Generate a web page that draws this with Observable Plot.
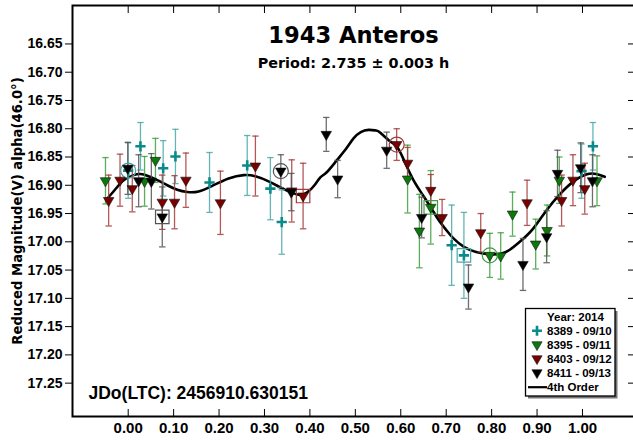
<!DOCTYPE html>
<html><head><meta charset="utf-8">
<script src="https://cdn.jsdelivr.net/npm/d3@7"></script>
<script src="https://cdn.jsdelivr.net/npm/@observablehq/plot@0.6"></script>
<style>
html,body{margin:0;padding:0;background:#fff;}
#chart{width:633px;height:441px;overflow:hidden;}
</style></head><body><div id="chart"></div>
<script>
// ---- texts ----
const titleText = "1943 Anteros";
const subtitleText = "Period: 2.735 \u00b1 0.003 h";
const yLabelText = "Reduced Magnitude(V) alpha(46.0\u00b0)";
const jdText = "JDo(LTC): 2456910.630151";
const legendTitle = "Year: 2014";
const fitLabel = "4th Order";

// ---- ticks ----
const xTicks = [0.00, 0.10, 0.20, 0.30, 0.40, 0.50, 0.60, 0.70, 0.80, 0.90, 1.00];
const yTicks = [16.65, 16.70, 16.75, 16.80, 16.85, 16.90, 16.95, 17.00, 17.05, 17.10, 17.15, 17.20, 17.25];

// ---- series ----
const seriesNames = ["8389 - 09/10", "8395 - 09/11", "8403 - 09/12", "8411 - 09/13"];

const s8389Phase = [0.000, 0.027, 0.077, 0.104, 0.179, 0.262, 0.313, 0.338, 0.712, 0.739, 0.998, 1.023];
const s8389Mag   = [16.874, 16.831, 16.870, 16.849, 16.895, 16.865, 16.906, 16.965, 17.006, 17.024, 16.875, 16.831];
const s8389Err   = [0.049, 0.042, 0.049, 0.048, 0.053, 0.053, 0.055, 0.057, 0.071, 0.076, 0.048, 0.042];

const s8395Phase = [-0.050, 0.036, 0.060, 0.615, 0.641, 0.666, 0.796, 0.820, 0.846, 0.897, 0.922, 0.949, 1.032];
const s8395Mag   = [16.892, 16.893, 16.856, 16.889, 16.981, 16.939, 17.024, 17.025, 16.951, 17.004, 16.980, 16.891, 16.892];
const s8395Err   = [0.041, 0.044, 0.039, 0.060, 0.065, 0.065, 0.039, 0.041, 0.039, 0.044, 0.045, 0.041, 0.044];

const s8403Phase = [-0.043, -0.018, 0.009, 0.075, 0.102, 0.127, 0.203, 0.280, 0.360, 0.385, 0.591, 0.615, 0.666, 0.691, 0.776, 0.878, 0.954, 0.979, 1.005];
const s8403Mag   = [16.927, 16.891, 16.906, 16.930, 16.930, 16.891, 16.931, 16.866, 16.910, 16.919, 16.828, 16.861, 16.909, 16.957, 16.984, 16.931, 16.927, 16.891, 16.906];
const s8403Err   = [0.045, 0.046, 0.041, 0.048, 0.047, 0.048, 0.056, 0.053, 0.055, 0.058, 0.028, 0.028, 0.028, 0.032, 0.034, 0.040, 0.045, 0.045, 0.045];

const s8411Phase = [-0.001, 0.023, 0.051, 0.075, 0.336, 0.359, 0.436, 0.461, 0.569, 0.646, 0.749, 0.869, 0.921, 0.945, 0.996, 1.022];
const s8411Mag   = [16.870, 16.892, 16.893, 16.956, 16.875, 16.912, 16.810, 16.889, 16.838, 16.957, 17.080, 17.040, 16.991, 16.879, 16.869, 16.892];
const s8411Err   = [0.046, 0.046, 0.049, 0.053, 0.029, 0.033, 0.030, 0.033, 0.032, 0.036, 0.039, 0.046, 0.046, 0.041, 0.044, 0.046];

// index of the circled / boxed point in each series
const circledIdx = [0, 6, 10, 4];
const boxedIdx   = [9, 5, 9, 3];

// ---- 4th order fit curve ----
const fitPhase = [-0.046, -0.024, -0.010, 0.012, 0.027, 0.042, 0.064, 0.086, 0.108, 0.130, 0.155, 0.185, 0.221, 0.254, 0.280, 0.309, 0.338, 0.360, 0.379, 0.395, 0.410, 0.423, 0.437, 0.459, 0.480, 0.496, 0.512, 0.529, 0.545, 0.555, 0.576, 0.591, 0.605, 0.624, 0.645, 0.666, 0.683, 0.701, 0.716, 0.739, 0.766, 0.796, 0.820, 0.840, 0.862, 0.891, 0.921, 0.950, 0.979, 1.008, 1.030, 1.049];
const fitMag   = [16.9235, 16.903, 16.891, 16.882, 16.880, 16.883, 16.891, 16.900, 16.908, 16.912, 16.911, 16.901, 16.888, 16.882, 16.884, 16.893, 16.905, 16.913, 16.917, 16.912, 16.900, 16.886, 16.877, 16.856, 16.835, 16.817, 16.806, 16.802, 16.803, 16.807, 16.822, 16.831, 16.852, 16.885, 16.913, 16.939, 16.961, 16.980, 16.994, 17.009, 17.018, 17.022, 17.021, 17.014, 17.000, 16.977, 16.944, 16.916, 16.894, 16.881, 16.880, 16.885];

// ---- styles ----
const colors = ["#0a8a8a", "#0b7a0b", "#7a0000", "#000000"];
const barColors = ["#4aa8a8", "#3f9f3f", "#a63c3c", "#555555"];

function build(ph, mg, er) { return ph.map((p, i) => ({phase: p, mag: mg[i], err: er[i]})); }
const seriesData = [
  build(s8389Phase, s8389Mag, s8389Err),
  build(s8395Phase, s8395Mag, s8395Err),
  build(s8403Phase, s8403Mag, s8403Err),
  build(s8411Phase, s8411Mag, s8411Err)
];
const fitData = fitPhase.map((p, i) => ({phase: p, mag: fitMag[i]}));

const capSymbol = { draw(ctx) { ctx.moveTo(-3.2, 0); ctx.lineTo(3.2, 0); } };
const FONT = "'Liberation Sans', Arial, Helvetica, sans-serif";
const WIDE = "'DejaVu Sans', Verdana, sans-serif";

const marks = [];
marks.push(Plot.line(fitData, {x: "phase", y: "mag", curve: "natural", stroke: "black", strokeWidth: 2.6}));

seriesData.forEach((data, k) => {
  const bc = barColors[k];
  marks.push(Plot.ruleX(data, {x: "phase", y1: d => d.mag - d.err, y2: d => d.mag + d.err, stroke: bc, strokeWidth: 1.3, strokeOpacity: 0.85}));
  marks.push(Plot.dot(data, {x: "phase", y: d => d.mag - d.err, symbol: capSymbol, fill: "none", stroke: bc, strokeWidth: 1.3, strokeOpacity: 0.85}));
  marks.push(Plot.dot(data, {x: "phase", y: d => d.mag + d.err, symbol: capSymbol, fill: "none", stroke: bc, strokeWidth: 1.3, strokeOpacity: 0.85}));
});
seriesData.forEach((data, k) => {
  const c = colors[k];
  if (k === 0) {
    marks.push(Plot.dot(data, {x: "phase", y: "mag", symbol: "plus", r: 3.4, stroke: c, strokeWidth: 2.6}));
  } else {
    marks.push(Plot.dot(data, {x: "phase", y: "mag", symbol: "triangle", rotate: 180, r: 3.9, fill: c, stroke: "#111", strokeWidth: 0.6}));
  }
  marks.push(Plot.dot([data[circledIdx[k]]], {x: "phase", y: "mag", symbol: "circle", r: 7.5, fill: "none", stroke: barColors[k], strokeWidth: 1.2}));
  marks.push(Plot.dot([data[boxedIdx[k]]], {x: "phase", y: "mag", symbol: "square", r: 7.6, fill: "none", stroke: barColors[k], strokeWidth: 1.2}));
});

// axes
marks.push(Plot.axisY(yTicks, {anchor: "left", tickSize: 7, tickPadding: 3, tickFormat: d => d.toFixed(2), fontSize: 14, fontWeight: "bold", label: null}));
marks.push(Plot.axisY(yTicks, {anchor: "right", tickSize: -7, tickFormat: () => "", label: null}));
marks.push(Plot.axisX(xTicks, {anchor: "bottom", tickSize: 0, tickPadding: 6, tickFormat: d => d.toFixed(2), fontSize: 15, fontWeight: "bold", label: null}));
marks.push(Plot.axisX(xTicks, {anchor: "bottom", tickSize: -7, tickFormat: () => "", label: null}));
marks.push(Plot.axisX(xTicks, {anchor: "top", tickSize: -7, tickFormat: () => "", label: null}));
marks.push(Plot.frame({stroke: "black", strokeWidth: 2}));

// texts
marks.push(Plot.text([titleText], {frameAnchor: "top", dy: 30, text: d => d, fontSize: 22.6, fontWeight: "bold", fontFamily: WIDE, lineAnchor: "middle", fill: "black"}));
marks.push(Plot.text([subtitleText], {frameAnchor: "top", dy: 58, text: d => d, fontSize: 14.4, fontWeight: "bold", fontFamily: WIDE, lineAnchor: "middle", fill: "black"}));
marks.push(Plot.text([jdText], {frameAnchor: "bottom-left", dx: 16, dy: -23, text: d => d, textAnchor: "start", fontSize: 17.5, fontWeight: "bold", lineAnchor: "middle", fill: "black"}));
marks.push(Plot.text([yLabelText], {frameAnchor: "left", dx: -54.5, text: d => d, rotate: -90, fontSize: 13.2, fontWeight: "bold", fontFamily: WIDE, lineAnchor: "middle", textAnchor: "middle", fill: "black"}));

const svg = Plot.plot({
  width: 633, height: 441,
  marginLeft: 72, marginRight: -1, marginTop: 5, marginBottom: 25,
  x: {domain: [-0.1226, 1.1145]},
  y: {domain: [17.309, 16.582]},
  style: {fontFamily: FONT, background: "white", color: "black", overflow: "hidden"},
  marks
});
document.getElementById("chart").appendChild(svg);

// ---- legend ----
const sel = d3.select(svg);
const lg = sel.append("g").attr("font-family", FONT).attr("font-weight", "bold").attr("font-size", 11.5).attr("text-anchor", "start");
const bx = 525.5, by = 308.5, bw = 89.5, bh = 87.5;
lg.append("rect").attr("x", bx + 2.5).attr("y", by + 2.5).attr("width", bw).attr("height", bh).attr("fill", "#777");
lg.append("rect").attr("x", bx).attr("y", by).attr("width", bw).attr("height", bh).attr("fill", "white").attr("stroke", "black").attr("stroke-width", 1.3);
const rowY = [316.7, 330.7, 344.7, 358.7, 372.7, 387.2];
const symX = 537, txtX = 547;
lg.append("text").attr("x", txtX).attr("y", rowY[0]).attr("dy", "0.35em").attr("text-anchor", "start").text(legendTitle);
seriesNames.forEach((name, k) => {
  const y = rowY[k + 1];
  if (k === 0) {
    lg.append("path").attr("d", d3.symbol(d3.symbolPlus, 34)()).attr("transform", `translate(${symX},${y})`).attr("fill", "none").attr("stroke", colors[0]).attr("stroke-width", 2.6);
  } else {
    lg.append("path").attr("d", d3.symbol(d3.symbolTriangle, 45)()).attr("transform", `translate(${symX},${y}) rotate(180)`).attr("fill", colors[k]).attr("stroke", "#111").attr("stroke-width", 0.6);
  }
  lg.append("text").attr("x", txtX).attr("y", y).attr("dy", "0.35em").attr("text-anchor", "start").text(name);
});
lg.append("line").attr("x1", 528).attr("x2", 547).attr("y1", rowY[5]).attr("y2", rowY[5]).attr("stroke", "black").attr("stroke-width", 2.2);
lg.append("text").attr("x", txtX).attr("y", rowY[5]).attr("dy", "0.35em").attr("text-anchor", "start").text(fitLabel);
</script></body></html>
